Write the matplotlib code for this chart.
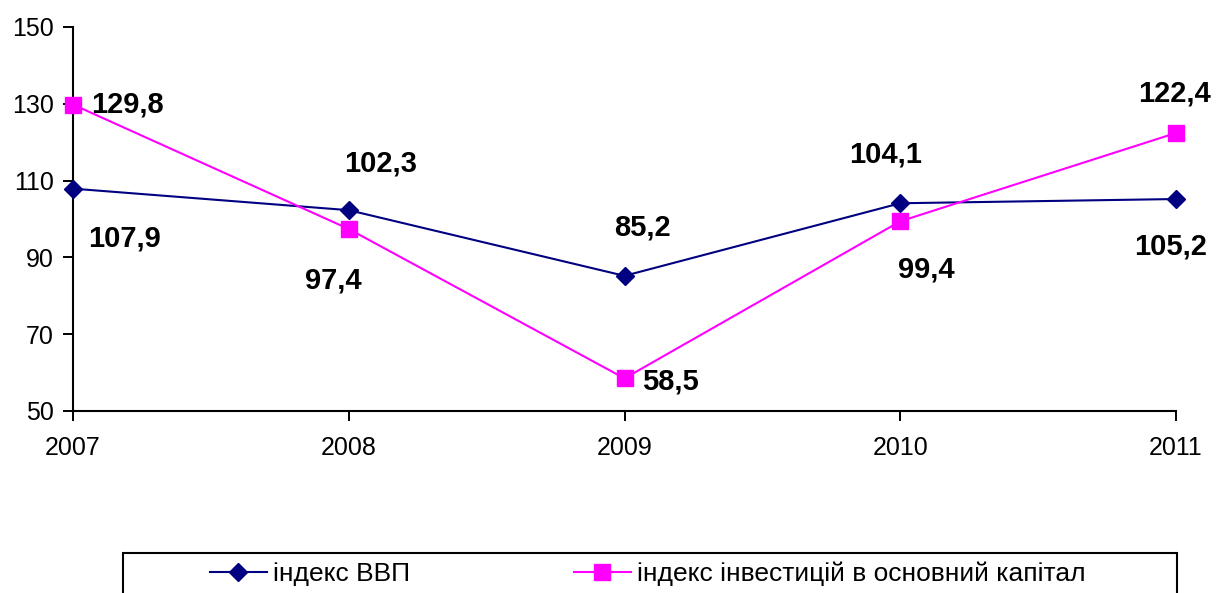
import matplotlib
matplotlib.use('Agg')
import matplotlib.pyplot as plt
from matplotlib.patches import Rectangle

# ---------------------------------------------------------------------------
# Data
# ---------------------------------------------------------------------------
years = [2007, 2008, 2009, 2010, 2011]
gdp_index = [107.9, 102.3, 85.2, 104.1, 105.2]
invest_index = [129.8, 97.4, 58.5, 99.4, 122.4]
gdp_label = 'індекс ВВП'
invest_label = 'індекс інвестицій в основний капітал'
y_ticks = [50, 70, 90, 110, 130, 150]

# label offsets (pixels) relative to each point
gdp_offsets = [(51, -50), (32, 47), (18, 48), (-15, 49), (-5, -47)]
invest_offsets = [(54, 0), (-15, -52), (46, -3), (26, -48), (-1, 39)]

NAVY = '#000080'
MAGENTA = '#FF00FF'
W, H = 1218, 593

plt.rcParams['font.family'] = ['Liberation Sans', 'DejaVu Sans']

fig = plt.figure(figsize=(W / 100, H / 100), dpi=100)
ax = fig.add_axes([73 / W, 1 - 411 / H, (1176 - 73) / W, (411 - 27) / H])

ax.plot(years, gdp_index, color=NAVY, lw=1.5, marker='D', ms=9,
        mec=NAVY, mfc=NAVY, label=gdp_label, clip_on=False, zorder=3)
ax.plot(years, invest_index, color=MAGENTA, lw=1.5, marker='s', ms=11,
        mec=MAGENTA, mfc=MAGENTA, label=invest_label, clip_on=False, zorder=3)

def fmt(v):
    return f'{v:.1f}'.replace('.', ',')

for x, v, off in zip(years, gdp_index, gdp_offsets):
    ax.annotate(fmt(v), (x, v), xytext=off, textcoords='offset pixels',
                ha='center', va='center', fontsize=21, fontweight='bold')
for x, v, off in zip(years, invest_index, invest_offsets):
    ax.annotate(fmt(v), (x, v), xytext=off, textcoords='offset pixels',
                ha='center', va='center', fontsize=21, fontweight='bold')

ax.set_xlim(2007, 2011)
ax.set_ylim(50, 150)
ax.set_xticks(years)
ax.set_yticks(y_ticks)
ax.tick_params(axis='both', labelsize=18, length=7, width=1.4, direction='out')
ax.tick_params(axis='x', pad=11)
ax.tick_params(axis='y', pad=7)
for s in ('top', 'right'):
    ax.spines[s].set_visible(False)
for s in ('left', 'bottom'):
    ax.spines[s].set_linewidth(1.5)

# legend box (runs off the bottom of the image)
fig.patches.append(Rectangle((123 / W, -0.05), (1177 - 123) / W,
                             (H - 553) / H + 0.05, transform=fig.transFigure,
                             fill=False, edgecolor='black', lw=1.5))
leg = fig.legend(loc='center left', bbox_to_anchor=(210 / W, 1 - 574 / H),
                 ncol=2, frameon=False, handlelength=2.15,
                 handletextpad=0.25, columnspacing=6.2,
                 borderpad=0, borderaxespad=0, fontsize=19)

fig.savefig('out.png', dpi=100)
